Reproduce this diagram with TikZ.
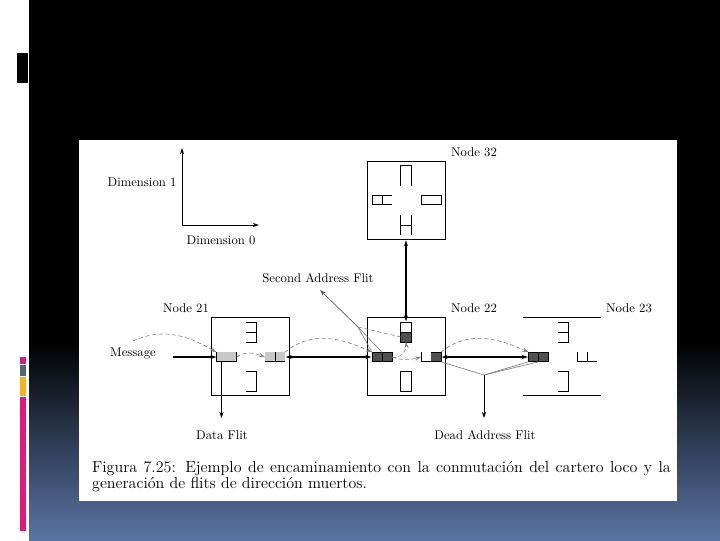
\documentclass[tikz,border=0pt]{standalone}
\usepackage{tikz}
\usetikzlibrary{positioning,arrows.meta}
\definecolor{slidepink}{HTML}{E0197D}
\definecolor{slidegrey}{HTML}{566478}
\definecolor{slideamber}{HTML}{F9B21A}
\definecolor{slideblue}{HTML}{5A75A4}
\definecolor{flitlight}{HTML}{C8C8C8}
\definecolor{flitdark}{HTML}{505050}

\begin{document}
\begin{tikzpicture}[
  x=0.75pt, y=-0.75pt,
  >={Stealth[length=4.5pt,width=3pt]},
  every node/.style={font=\fontsize{9.5}{12}\selectfont},
  router/.style={minimum width=58.5pt, minimum height=58.5pt, inner sep=0pt, outer sep=0pt},
  hslot/.style={minimum width=15pt, minimum height=7.2pt, inner sep=0pt, outer sep=0pt},
  vslot/.style={minimum width=7.8pt, minimum height=15pt, inner sep=0pt, outer sep=0pt},
  wire/.style={line width=0.75pt},
  link/.style={<->, line width=1.5pt, shorten <=0.5pt, shorten >=0.5pt},
  hop/.style={->, densely dashed, gray, line width=0.45pt}
]
\useasboundingbox (0,0) rectangle (720,540);

% slide behind the figure
\fill[white] (0,0) rectangle (720,540);
\fill[black] (29,0) rectangle (720,341);
\shade[top color=black, bottom color=slideblue] (29,340) rectangle (720,540);
\fill[black] (17,53) rectangle (28,83);
\fill[slidepink] (20,357) rectangle (26,364);
\fill[slidegrey] (20,365) rectangle (26,376);
\fill[slideamber] (20,377) rectangle (26,396);
\fill[slidepink] (20,397) rectangle (26,531);
\fill[white] (79,140) rectangle (677,501);

% routers
\node[router, draw, wire] (N22) at (406,356) {};
\node[router, draw, wire, left=58.5pt of N22] (N21) {};
\node[router, right=58.5pt of N22] (N23) {};
\node[router, draw, wire, above=58pt of N22] (N32) {};
\draw[wire] (N23.north west) -- (N23.north east);
\draw[wire] (N23.south west) -- (N23.south east);

% labels
\node (dim1) at (142,182) {Dimension 1};
\node (dim0) at (221,240) {Dimension 0};
\node (lab32) at (474,152) {Node 32};
\node (lab21) at (186,308) {Node 21};
\node (lab22) at (474,308) {Node 22};
\node (lab23) at (629,308) {Node 23};
\node (second) at (318,278) {Second Address Flit};
\node (message) at (133,353) {Message};
\node (data) at (222,435) {Data Flit};
\node (dead) at (485,435) {Dead Address Flit};
\node[text width=434pt, align=justify, inner sep=0pt, font=\fontsize{12}{12}\selectfont] (caption) at (381.5,477)
  {Figura 7.25: Ejemplo de encaminamiento con la conmutación del cartero loco y la generación de flits de dirección muertos.};

% axes
\coordinate (origin) at (182,225);
\coordinate (axis1) at (182,148);
\coordinate (axis0) at (259,225);
\draw[->, wire] (origin) -- (axis1);
\draw[->, wire] (origin) -- (axis0);

% node 32 buffers
\node[vslot] (N32n) at (406,175.5) {};
\node[hslot] (N32e) at (431,200) {};
\node[hslot] (N32w) at (382,200) {};
\node[vslot] (N32s) at (406,225) {};
\draw[wire] (N32n.south west) |- (N32n.north east) -- (N32n.south east);
\draw[wire] (N32e.south west) rectangle (N32e.north east);
\draw[wire] (N32w.north east) -| (N32w.south west) -- (N32w.south east);
\draw[wire] (N32w.north) -- (N32w.south);
\draw[wire] (N32s.north west) -- (N32s.south west);
\draw[wire] (N32s.north east) -- (N32s.south east);
\draw[wire] (N32s.west) -- (N32s.east);

% node 21 buffers
\node[hslot, fill=flitlight] (N21w) at (226.5,357) {};
\node[hslot, fill=flitlight] (N21e) at (275,357) {};
\node[vslot] (N21n) at (251,332) {};
\node[vslot] (N21s) at (251,381) {};
\draw[wire] (N21w.north west) |- (N21w.south east) -- (N21w.north east);
\draw[wire] (N21e.south west) -- (N21e.south east);
\draw[wire] (N21e.north) -- (N21e.south);
\draw[wire] (N21n.north west) -| (N21n.south east) -- (N21n.south west);
\draw[wire] (N21n.west) -- (N21n.east);
\draw[wire] (N21s.north west) -| (N21s.south east) -- (N21s.south west);

% node 22 buffers
\node[hslot, fill=flitdark] (N22w) at (382,357) {};
\node[hslot] (N22e) at (431,357) {};
\node[vslot] (N22n) at (406,332) {};
\node[vslot] (N22s) at (406,381) {};
\fill[flitdark] (N22e.north) rectangle (N22e.south east);
\fill[flitdark] (N22n.west) rectangle (N22n.south east);
\draw[wire] (N22w.south west) rectangle (N22w.north east);
\draw[wire] (N22w.north) -- (N22w.south);
\draw[wire] (N22e.north west) |- (N22e.south east) -- (N22e.north east);
\draw[wire] (N22e.north) -- (N22e.north east);
\draw[wire] (N22n.south west) rectangle (N22n.north east);
\draw[wire] (N22n.west) -- (N22n.east);
\draw[wire] (N22s.south west) rectangle (N22s.north east);

% node 23 buffers
\node[hslot, fill=flitdark] (N23w) at (538.5,357) {};
\node[hslot] (N23e) at (587,357) {};
\node[vslot] (N23n) at (563,332) {};
\node[vslot] (N23s) at (563,381) {};
\draw[wire] (N23w.south west) rectangle (N23w.north east);
\draw[wire] (N23w.north) -- (N23w.south);
\draw[wire] (N23e.north west) -- (N23e.south west) -- (N23e.south east);
\draw[wire] (N23e.north) -- (N23e.south);
\draw[wire] (N23n.north west) -| (N23n.south east) -- (N23n.south west);
\draw[wire] (N23n.west) -- (N23n.east);
\draw[wire] (N23s.north west) -| (N23s.south east) -- (N23s.south west);

% physical links
\coordinate (msgstart) at (173,357);
\draw[->, line width=1.5pt] (msgstart) -- (N21w.west);
\draw[link] (N21e.east) -- (N22w.west);
\draw[link] (N22e.east) -- (N23w.west);
\draw[link] (N32.south) -- (N22n.north);

% flit hops
\coordinate (msgcurve) at (133,341);
\draw[hop] (msgcurve) to[out=25,in=150] (N21w.north west);
\draw[hop] (N21w.east) to[out=35,in=160] (N21e.west);
\draw[hop] (N21e.north east) to[out=40,in=155] (N22w.north west);
\draw[hop] (N22w.east) to[out=-20,in=-85] (N22n.south);
\draw[hop] (N22w.east) to[out=-20,in=195] (N22e.west);
\draw[hop] (N22e.north east) to[out=40,in=155] (N23w.north west);

% data and dead flits
\coordinate (datastart) at (221.5,361);
\coordinate (dataend) at (221.5,418);
\draw[->, wire] (datastart) -- (dataend);
\coordinate (deadjoin) at (484,375);
\coordinate (deadend) at (484,418);
\draw[gray, line width=0.5pt] (N22e.south east) -- (deadjoin);
\draw[gray, line width=0.5pt] (N23w.south west) -- (deadjoin);
\draw[gray, line width=0.5pt] (N23w.south) -- (deadjoin);
\draw[->, line width=0.5pt] (deadjoin) -- (deadend);

% second address flit
\coordinate (secjoin) at (358,327);
\coordinate (sectip) at (320,290);
\coordinate (secnorth) at (401,337);
\draw[->, gray!70!black, line width=0.5pt] (secjoin) -- (sectip);
\draw[densely dashed, gray, line width=0.45pt] (secjoin) -- (secnorth);
\draw[gray, line width=0.45pt] (secjoin) -- (N22w.north west);
\draw[gray, line width=0.45pt] (secjoin) -- (N22w.north);
\end{tikzpicture}
\end{document}
